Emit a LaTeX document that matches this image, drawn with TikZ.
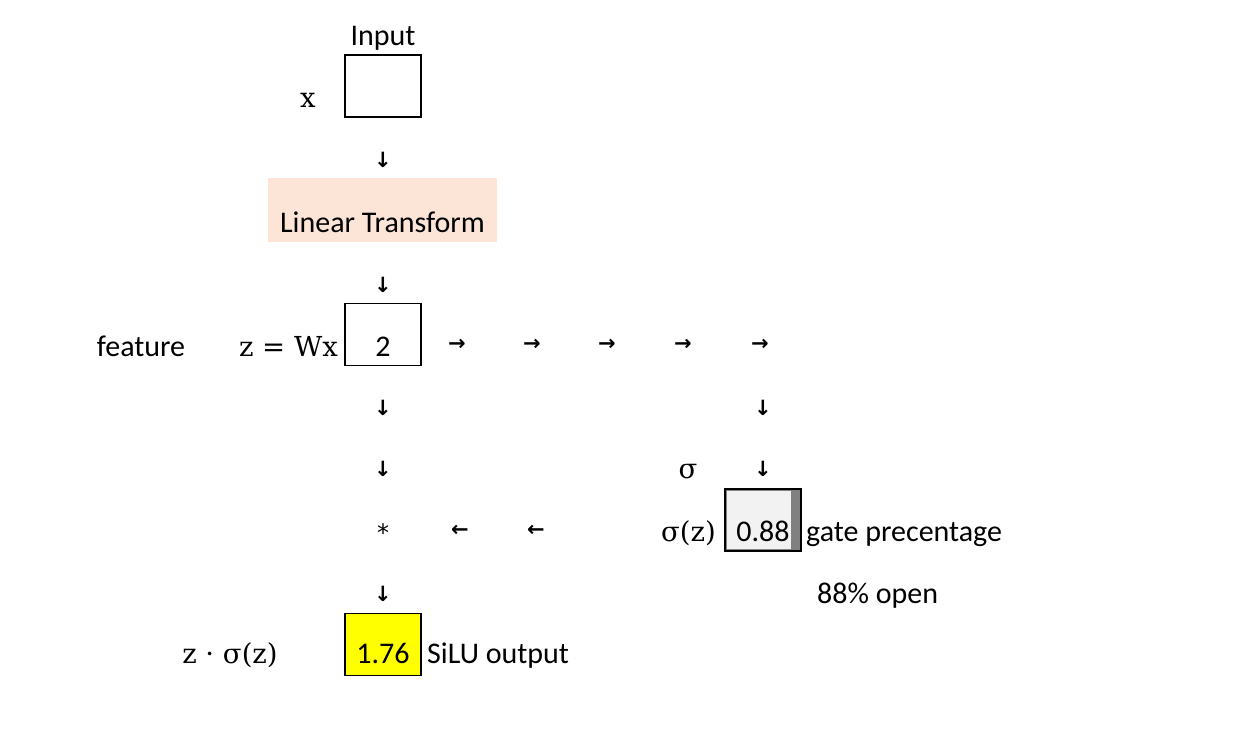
\documentclass[tikz,border=0pt]{standalone}
\usepackage{fontspec}
\setmainfont{Carlito}
\newfontfamily\serifmath{DejaVu Serif}
\newfontfamily\arrowglyph{DejaVu Sans}
\usetikzlibrary{calc,backgrounds}
\definecolor{peach}{RGB}{252,228,214}
\definecolor{gatefill}{RGB}{242,242,242}
\definecolor{gateedge}{RGB}{128,128,128}
\definecolor{hilite}{RGB}{255,255,0}
\definecolor{ink}{RGB}{0,0,0}
\tikzset{
  txt/.style   = {text=ink, inner sep=0pt, anchor=base, font=\fontsize{30}{36}\selectfont},
  mth/.style   = {text=ink, inner sep=0pt, anchor=base, font=\serifmath\fontsize{27.5}{33}\selectfont},
  arr/.style   = {text=ink, inner sep=0pt, font=\arrowglyph\bfseries\fontsize{21}{25}\selectfont},
  cell/.style  = {draw=ink, line width=1.5pt, minimum width=76pt, minimum height=62pt,
                  inner sep=0pt, text height=43pt, text depth=0pt, text=ink,
                  font=\fontsize{30}{36}\selectfont},
  band/.style  = {fill=peach, minimum width=229pt, minimum height=64pt, inner sep=0pt,
                  text height=44pt, text depth=0pt, text=ink, font=\fontsize{30}{36}\selectfont},
}

\begin{document}
\begin{tikzpicture}[x=1pt, y=-1pt]
\useasboundingbox (0,0) rectangle (1234,736);

% input
\node[txt] (intitle) at (383,45) {Input};
\node[cell] (inbox) at (383,86) {};
\node[mth] (xlab) at (308,107) {x};
\node[arr] (d1) at (383,160) {↓};

% linear transform
\node[band] (lin) at (382.5,210) {Linear Transform};
\node[arr] (d2) at (383,285) {↓};

% feature row
\node[txt] (feat) at (141,356) {feature};
\node[mth, anchor=base east] (zeq) at (338,356) {z = Wx};
\node[cell] (zbox) at (383,334.5) {2};
\foreach \i/\xx in {1/457,2/532,3/607,4/683,5/760}
  \node[arr] (r\i) at (\xx,345) {→};

% down to the product and the gate
\node[arr] (d3) at (383,408) {↓};
\node[arr] (d4) at (383,469) {↓};
\node[arr] (g1) at (763,408) {↓};
\node[arr] (g2) at (763,469) {↓};
\node[mth] (sig) at (688,478) {σ};

% gate
\node[txt, font=\arrowglyph\fontsize{24}{28}\selectfont] (mul) at (383,541) {*};
\node[arr] (l1) at (460,531) {←};
\node[arr] (l2) at (536,531) {←};
\node[mth, anchor=base east] (sigz) at (716,541) {σ(z)};
\node[cell, line width=1.2pt] (gate) at (763,520) {0.88};
\begin{scope}[on background layer]
  \fill[white] (0,0) rectangle (1234,736);
  \fill[gateedge] (gate.north west) rectangle (gate.south east);
  \fill[gatefill] ($(gate.north west)+(3,3)$) rectangle ($(gate.south east)+(-11,-3)$);
\end{scope}
\node[txt, anchor=base west] (gatelab) at (806,541) {gate precentage};
\node[txt, anchor=base west] (openlab) at (817,603) {88\% open};

% output
\node[arr] (d5) at (383,594) {↓};
\node[mth] (prod) at (230,663) {z · σ(z)};
\node[cell, fill=hilite, text height=37pt] (out) at (383,644.5) {1.76};
\node[txt, anchor=base west] (outlab) at (427,663) {SiLU output};
\end{tikzpicture}
\end{document}
